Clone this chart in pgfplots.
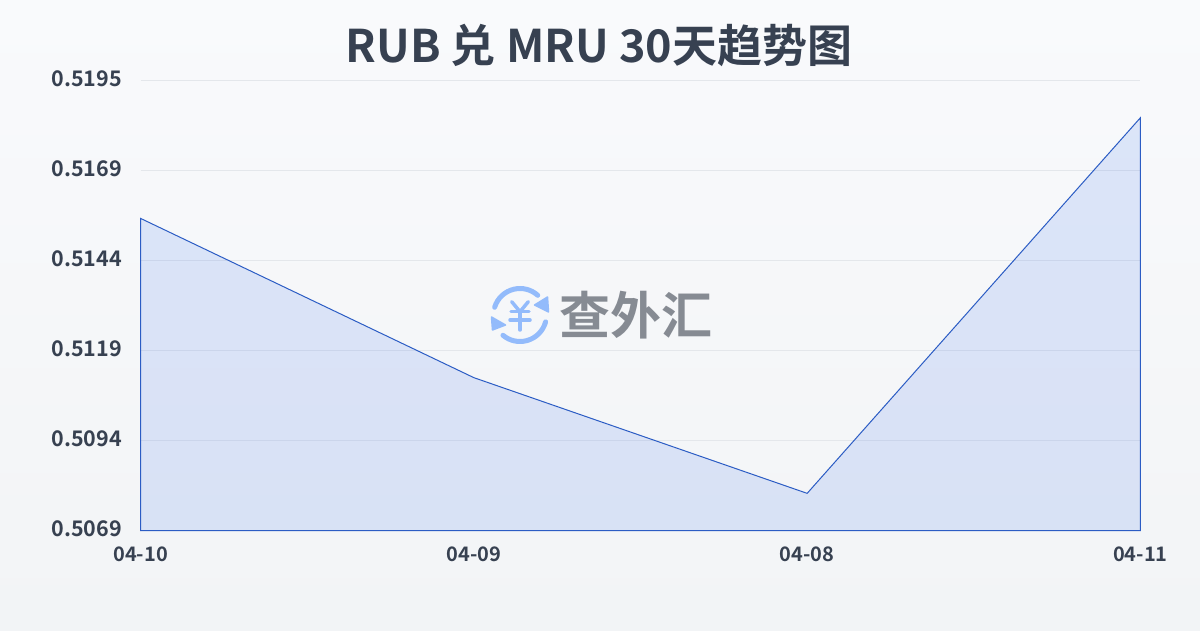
\documentclass[border=0pt]{standalone}
\usepackage{fontspec}
\setmainfont{Noto Sans CJK SC}[BoldFont={Noto Sans CJK SC Bold}]
\usepackage{pgfplots}
\pgfplotsset{compat=1.18}
\definecolor{txt}{HTML}{374151}
\definecolor{gridc}{HTML}{E4E7EB}
\definecolor{linec}{HTML}{2B5CC4}
\definecolor{fillc}{HTML}{2563EB}
\definecolor{logo}{HTML}{93BBFB}
\definecolor{wm}{HTML}{868B93}
\definecolor{bgt}{HTML}{F9FAFC}
\definecolor{bgb}{HTML}{F2F4F6}
\begin{document}
\begin{tikzpicture}[x=1pt,y=1pt]
\path[use as bounding box] (0,0) rectangle (1200,630);
\shade[top color=bgt, bottom color=bgb] (0,0) rectangle (1200,630);
\node[text=txt,font=\fontsize{45}{50}\selectfont\bfseries,anchor=center] at (599,585) {RUB 兑 MRU 30天趋势图};
\begin{axis}[
  at={(140.5pt,99.5pt)},anchor=south west,
  width=1000pt,height=450pt,scale only axis,
  xmin=0,xmax=3,ymin=0.5069,ymax=0.5195,
  axis line style={draw=none},
  xtick={0,1,2,3},xticklabels={04-10,04-09,04-08,04-11},
  ytick={0.5069,0.50942,0.51194,0.51446,0.51698,0.5195},
  yticklabels={0.5069,0.5094,0.5119,0.5144,0.5169,0.5195},
  tick style={draw=none},
  ymajorgrids,
  major grid style={gridc,line width=0.9pt},
  xticklabel style={font=\fontsize{20}{22}\selectfont\bfseries,text=txt,yshift=-13pt},
  yticklabel style={font=\fontsize{21.5}{24}\selectfont\bfseries,text=txt,xshift=-15pt,yshift=2pt},
  clip=false,
]
\addplot[draw=linec,line width=1pt,fill=fillc,fill opacity=0.13,line join=miter] coordinates {
  (0,0.5069) (0,0.51564) (1,0.51118) (2,0.50794) (3,0.51846) (3,0.5069)} -- cycle;
\end{axis}
% watermark
\begin{scope}[shift={(520,315)}]
\draw[logo,line width=5pt,line cap=round] (163:26.5) arc (163:48:26.5);
\draw[logo,line width=5pt,line cap=round] (-15:26.5) arc (-15:-130:26.5);
\fill[logo,draw=logo,line width=1.5pt,line join=round] (27.5,18) -- (28.5,3) -- (14.5,10) -- cycle;
\fill[logo,draw=logo,line width=1.5pt,line join=round] (-28.5,-2) -- (-14.5,-10) -- (-27.5,-15) -- cycle;
\draw[logo,line width=3.5pt,line cap=round,line join=round] (-8.3,13.3) -- (0,3.3) -- (8.3,13.3);
\draw[logo,line width=3.5pt,line cap=round] (-9,3.3) -- (9,3.3);
\draw[logo,line width=3.5pt,line cap=round] (-10,-5) -- (10,-5);
\draw[logo,line width=3.5pt,line cap=round] (0,3.3) -- (0,-15);
\end{scope}
\node[text=wm,font=\fontsize{51}{51}\selectfont\bfseries,anchor=center] at (636,315) {查外汇};
\end{tikzpicture}
\end{document}
